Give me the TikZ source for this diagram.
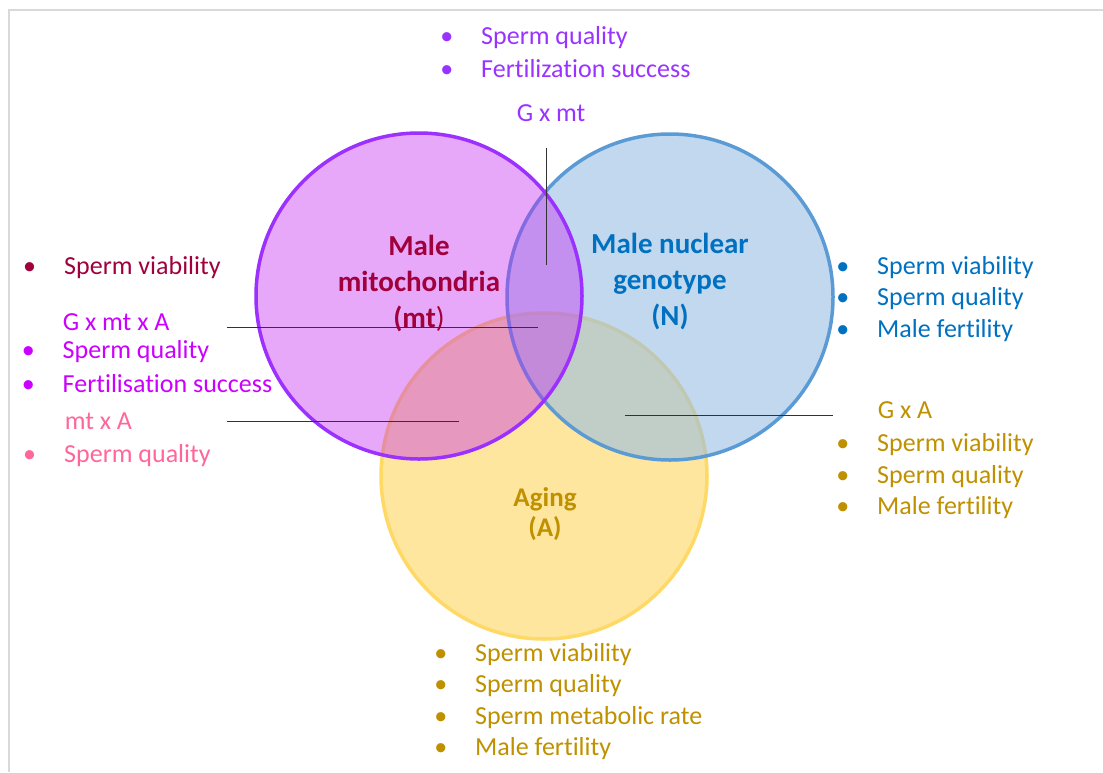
\documentclass[tikz,border=0pt]{standalone}
\usepackage{fontspec}
\setmainfont{Carlito}[Ligatures=NoCommon]
\definecolor{mtline}{RGB}{155,48,255}
\definecolor{mtfill}{RGB}{197,37,242}
\definecolor{nline}{RGB}{91,155,213}
\definecolor{nfill}{RGB}{153,190,227}
\definecolor{aline}{RGB}{255,217,102}
\definecolor{afill}{RGB}{254,230,158}
\definecolor{mtdark}{RGB}{160,0,60}
\definecolor{gmt}{RGB}{153,51,255}
\definecolor{gmta}{RGB}{204,0,255}
\definecolor{mta}{RGB}{255,102,153}
\definecolor{nblue}{RGB}{0,112,192}
\definecolor{agold}{RGB}{191,144,0}
\newcommand{\blt}[1]{\makebox[41pt][l]{\textbullet}#1}
\tikzset{
  txt/.style={anchor=west,inner sep=0pt,yshift=-2pt,font=\fontsize{26}{30}\selectfont},
  big/.style={align=center,inner sep=0pt,yshift=-2pt,font=\fontsize{29}{36}\selectfont\bfseries},
  pointer/.style={line width=0.8,black!80}
}
\begin{document}
\begin{tikzpicture}[x=1pt,y=-1pt,line width=3.5]
  \useasboundingbox (0,0) rectangle (1103,772);
  \draw[line width=2.5,black!15] (9,772)--(9,10)--(1103,10);
      \coordinate (M) at (419,296);
         \coordinate (N) at (670,297);
           \coordinate (A) at (544,476);
  % the three sets, Aging at the bottom
  \draw[aline,fill=afill] (A) circle (163pt);
  \draw[nline,fill=nfill,fill opacity=0.6] (N) circle (163pt);
  \draw[mtline,fill=mtfill,fill opacity=0.4] (M) circle (163pt);
  \node (mtname) at (419,282)[big,mtdark]{Male\\mitochondria\\(mt\textmd{)}};
  \node (nname) at (670,280)[big,nblue]{Male nuclear\\genotype\\(N)};
  \node (aname) at (545,512)[big,agold,font=\fontsize{27}{30}\selectfont\bfseries]{Aging\\(A)};
  % G x mt
  \node (top1) at (438.5,36)[txt,gmt]{\blt{Sperm quality}};
  \node (top2) at (438.5,67)[txt,gmt]{\blt{Fertilization success}};
  \node (gxmt) at (515,111)[txt,gmt]{G x mt};
      \coordinate (gxmt-a) at (546,148);
         \coordinate (gxmt-b) at (546,265);
  \draw[pointer] (gxmt-a)--(gxmt-b);
  % mt alone, G x mt x A, mt x A
  \node (mt1) at (21.5,266)[txt,mtdark]{\blt{Sperm viability}};
  \node (gxmtxa) at (61,320)[txt,gmta]{G x mt x A};
  \node (gma1) at (20,350)[txt,gmta]{\blt{Sperm quality}};
  \node (gma2) at (20,382)[txt,gmta]{\blt{Fertilisation success}};
  \node (mtxa) at (63,419)[txt,mta]{mt x A};
  \node (ma1) at (21.5,454)[txt,mta]{\blt{Sperm quality}};
      \coordinate (gxmtxa-a) at (227,327);
         \coordinate (gxmtxa-b) at (538,327);
      \coordinate (mtxa-a) at (227,421);
         \coordinate (mtxa-b) at (459,421);
  \draw[pointer] (gxmtxa-a)--(gxmtxa-b)(mtxa-a)--(mtxa-b);
  % N alone and G x A
  \node (n1) at (834.5,266)[txt,nblue]{\blt{Sperm viability}};
  \node (n2) at (834.5,297)[txt,nblue]{\blt{Sperm quality}};
  \node (n3) at (834.5,329)[txt,nblue]{\blt{Male fertility}};
  \node (gxa) at (876,408)[txt,agold]{G x A};
  \node (ga1) at (834.5,443)[txt,agold]{\blt{Sperm viability}};
  \node (ga2) at (834.5,475)[txt,agold]{\blt{Sperm quality}};
  \node (ga3) at (834.5,506)[txt,agold]{\blt{Male fertility}};
      \coordinate (gxa-a) at (833,415);
         \coordinate (gxa-b) at (625,415);
  \draw[pointer] (gxa-a)--(gxa-b);
  % A alone
  \node (a1) at (432.5,653)[txt,agold]{\blt{Sperm viability}};
  \node (a2) at (432.5,684)[txt,agold]{\blt{Sperm quality}};
  \node (a3) at (432.5,716)[txt,agold]{\blt{Sperm metabolic rate}};
  \node (a4) at (432.5,747)[txt,agold]{\blt{Male fertility}};
\end{tikzpicture}
\end{document}
